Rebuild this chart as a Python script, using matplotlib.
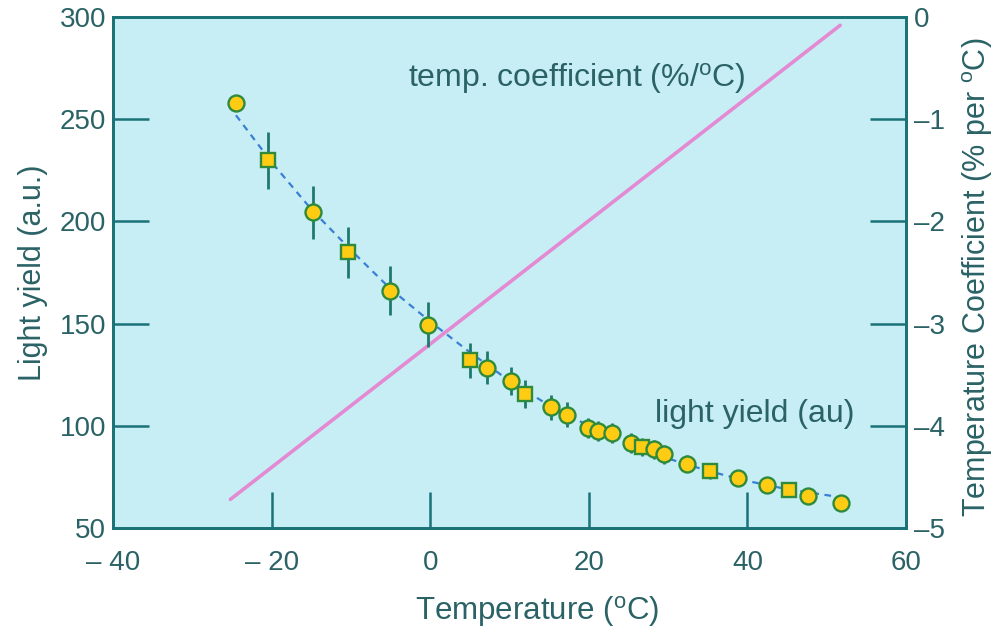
import matplotlib
matplotlib.use("Agg")
import matplotlib.pyplot as plt
import numpy as np

plt.rcParams['font.family'] = ['Liberation Sans', 'DejaVu Sans']
plt.rcParams['mathtext.fontset'] = 'custom'
plt.rcParams['mathtext.rm'] = 'Liberation Sans'
plt.rcParams['mathtext.it'] = 'Liberation Sans'

# Light yield data (a.u.)
temp = [-24.5, -20.4, -14.8, -10.4, -5.1, -0.3, 5.0, 7.2, 10.2, 12.0, 15.2, 17.3,
        19.9, 21.2, 22.9, 25.3, 26.7, 28.2, 29.5, 32.4, 35.3, 38.8, 42.5, 45.2, 47.6, 51.8]
yield_ = [258, 230, 204.5, 185, 166, 149.5, 132, 128.5, 122, 115.5, 109, 105.5,
          99, 97.5, 96.5, 91.5, 89.5, 88.5, 86, 81.5, 78, 74.5, 71, 68.5, 65.5, 62]
yerr = [0, 14, 13, 12.5, 12, 11, 8.5, 8, 7, 7, 6, 6, 5, 5, 5, 5, 4.5, 4.5, 4.5,
        4, 4, 3.5, 3.5, 3, 3, 3]
shape = ['o', 's', 'o', 's', 'o', 'o', 's', 'o', 'o', 's', 'o', 'o',
         'o', 'o', 'o', 'o', 's', 'o', 'o', 'o', 's', 'o', 'o', 's', 'o', 'o']

# Fit curve
fit_x = [-24.5, -20, -15, -10, -5, 0, 5, 10, 15, 20, 25, 30, 35, 40, 45, 51]
fit_y = [252, 229, 206, 186, 167, 151, 136, 122, 110, 100, 91.5, 84, 78, 73, 69, 65.5]

# Temperature coefficient (% per oC)
tc_x = [-25.2, 51.7]
tc_y = [-4.72, -0.08]

teal = '#1b7277'
txt = '#2a6266'
bg = '#c6eef4'

L, B, W, H = 0.1135, 0.1685, 0.7961, 0.8045
fig = plt.figure(figsize=(9.96, 6.35), dpi=100)
fig.patches.append(plt.Rectangle((L, B), W, H, transform=fig.transFigure,
                                 facecolor=bg, edgecolor='none', zorder=-10))
ax = fig.add_axes([L, B, W, H])
ax2 = ax.twinx()
ax.set_zorder(ax2.get_zorder() + 1)
ax.patch.set_visible(False)
ax2.patch.set_visible(False)

ax.set_xlim(-40, 60)
ax.set_ylim(50, 300)
ax2.set_ylim(-5, 0)

ax2.plot(tc_x, tc_y, color='#e48ad2', lw=2.6, solid_capstyle='round', zorder=1)

ax.plot(fit_x, fit_y, color='#3a7fd4', lw=1.6, dashes=(3, 2.5), zorder=2)
ax.errorbar(temp, yield_, yerr=yerr, fmt='none', ecolor='#1f7a6c', elinewidth=2, capsize=0, zorder=3)
for x, y, m in zip(temp, yield_, shape):
    ax.plot([x], [y], marker=m, ms=11.5 if m == 'o' else 10, mfc='#ffcc14',
            mec='#2f8a3c', mew=1.7, ls='none', zorder=4)

fs = 20
ax.set_xticks([-40, -20, 0, 20, 40, 60])
ax.set_xticklabels(['\u2013 40', '\u2013 20', '0', '20', '40', '60'])
ax.set_yticks([50, 100, 150, 200, 250, 300])
ax2.set_yticks([-5, -4, -3, -2, -1, 0])
ax2.set_yticklabels(['\u20135', '\u20134', '\u20133', '\u20132', '\u20131', '0'])

for a in (ax, ax2):
    for s in a.spines.values():
        s.set_color(teal)
        s.set_linewidth(2)
ax.tick_params(axis='x', direction='in', length=26, width=1.8, color=teal,
               labelsize=fs, labelcolor=txt, pad=16, top=False)
ax.tick_params(axis='y', direction='in', length=26, width=1.8, color=teal,
               labelsize=fs, labelcolor=txt, pad=5, right=False)
ax2.tick_params(axis='y', direction='in', length=26, width=1.8, color=teal,
                labelsize=fs, labelcolor=txt, pad=6)

ax.set_xlabel(r'Temperature ($^{\mathrm{o}}$C)', fontsize=22.5, color=txt)
ax.xaxis.set_label_coords(0.535, -0.13)
ax.set_ylabel('Light yield (a.u.)', fontsize=22, color=txt, labelpad=8)
ax2.set_ylabel(r'Temperature Coefficient (% per $^{\mathrm{o}}$C)', fontsize=22, color=txt)
ax2.yaxis.set_label_coords(1.068, 0.49)

ax.text(-2.8, 270, r'temp. coefficient (%/$^{\mathrm{o}}$C)', fontsize=23, color=txt,
        ha='left', va='center')
ax.text(28.3, 106, 'light yield (au)', fontsize=23, color=txt, ha='left', va='center')

fig.savefig('out.png', dpi=100, facecolor='white')
